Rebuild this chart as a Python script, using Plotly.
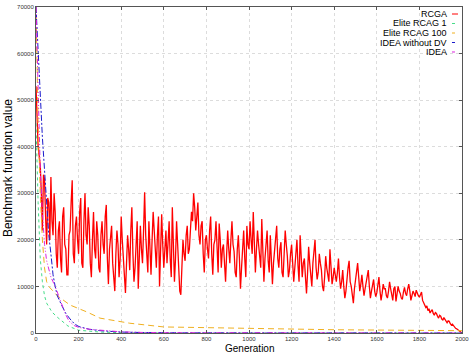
import plotly.graph_objects as go

# ---- data ----
rcga_val = [
    53000, 45000, 40000, 38000, 36000, 30000, 22000, 34000, 33000, 25000, 19000, 29000, 28000, 20000, 33500, 24000, 21000, 30000, 26000, 17000,
    14000, 22000, 24000, 16000, 13000, 25000, 27000, 19000, 18000, 12500, 12500, 21000, 22000, 28000, 32800, 17000, 15000, 23000, 25000, 20000,
    17000, 26000, 29000, 15000, 14000, 24000, 30000, 21000, 19000, 27000, 23000, 15000, 12000, 20000, 26000, 18000, 16000, 24000, 21000, 14000,
    13000, 21000, 24000, 19000, 17000, 25000, 27500, 16000, 10500, 18000, 20000, 23000, 15000, 11000, 9000, 17000, 22000, 19000, 12000, 16000,
    25000, 20000, 16000, 11000, 8600, 15000, 21000, 18000, 13500, 22000, 27000, 17000, 11000, 14000, 19000, 24000, 9500, 16000, 23000, 18000,
    15000, 22000, 30200, 21000, 18000, 13000, 24000, 19000, 12500, 20000, 26000, 22000, 17000, 14000, 21000, 25000, 10000, 17000, 25500, 19000,
    14000, 18000, 22000, 15000, 19000, 24000, 16000, 12000, 27000, 20000, 11000, 16000, 24000, 19000, 13000, 9000, 8200, 15000, 20000, 17000,
    15500, 21000, 23000, 17000, 18000, 22000, 26000, 24000, 30000, 27000, 22000, 25000, 28000, 21000, 19000, 23000, 24000, 17000, 13000, 20000,
    21000, 18000, 16000, 22000, 25000, 17000, 12500, 19000, 20000, 24000, 17000, 13000, 23500, 20000, 14000, 18000, 19000, 15000, 11000, 17000,
    22000, 18000, 15000, 20000, 24000, 19000, 17500, 13000, 12000, 18000, 21000, 16000, 9500, 14000, 19000, 22000, 16000, 12000, 23000, 19000,
    18000, 24000, 20000, 17000, 26000, 21000, 13000, 18000, 22000, 19000, 16000, 14000, 24500, 18000, 11000, 16000, 20000, 22000, 15500, 13000,
    21000, 17000, 10500, 15000, 18000, 21000, 23000, 16000, 14000, 18000, 19500, 13000, 12000, 17000, 22000, 19000, 16500, 12000, 13500, 17000,
    19000, 15000, 11000, 14000, 17500, 20000, 14500, 11000, 21000, 16000, 12000, 15000, 16000, 12000, 8500, 13000, 18500, 15000, 13000, 10000,
    15000, 18000, 20000, 14000, 11500, 13000, 17000, 15000, 13500, 10000, 9000, 12000, 16500, 14000, 12500, 11000, 18000, 14000, 10500, 12000,
    14000, 12500, 11000, 13000, 16000, 12000, 9500, 11000, 13500, 10000, 7500, 9000, 12000, 14000, 15500, 11000, 10000, 8000, 6400, 9500,
    11500, 13000, 15000, 12000, 9000, 10500, 12500, 10000, 8000, 9500, 11000, 12000, 13500, 10000, 7500, 9000, 10500, 11500, 9000, 7800,
    8600, 10500, 12000, 9000, 7000, 8500, 10500, 9500, 9500, 8000, 7500, 9000, 11000, 9500, 8000, 7000, 9500, 10000, 6800, 8000,
    10000, 9000, 8500, 7500, 7200, 8800, 9800, 8500, 8000, 9500, 10500, 9000, 7000, 8000, 9000, 8500, 7800, 9200, 8500, 8000,
    7700, 8300, 8800, 7000, 6500, 6000, 5500, 5800, 4800, 5200, 4300, 4700, 5000, 4200, 3800, 4400, 4200, 3600, 3200, 3800,
    3600, 3000, 2800, 3300, 3000, 2500, 2200, 2600, 2500, 2000, 1700, 1900, 1500, 1200, 1000, 900, 700, 500, 300, 150, 0,
]
rcga_gen = list(range(0, 2001, 5))
assert len(rcga_gen) == len(rcga_val)

elite1_gen = [0, 5, 10, 20, 30, 40, 50, 75, 100, 150, 200, 300, 400, 600, 2000]
elite1_val = [45000, 35000, 28000, 16000, 11000, 8000, 6400, 4500, 3400, 1500, 600, 200, 60, 0, 0]

elite100_gen = [0, 10, 20, 30, 40, 50, 60, 100, 160, 240, 300, 440, 600, 1000, 1400, 2000]
elite100_val = [70000, 45000, 30000, 20000, 14000, 11000, 10000, 8000, 6000, 4500, 3200, 2100, 1300, 1000, 700, 500]

ideanodv_gen = [0, 10, 20, 30, 40, 50, 60, 70, 80, 90, 100, 120, 140, 160, 180, 200, 250, 300, 350, 400, 500, 700, 2000]
ideanodv_val = [70000, 60000, 50000, 42000, 35000, 27000, 21000, 17000, 12500, 10000, 8000, 6000, 4200, 3000, 2000, 1400, 800, 500, 300, 200, 100, 30, 0]

idea_gen = [0, 10, 20, 30, 40, 50, 60, 70, 80, 90, 100, 110, 120, 130, 140, 150, 160, 180, 200, 250, 300, 350, 400, 500, 600, 2000]
idea_val = [70000, 50000, 35000, 26000, 19000, 15500, 13500, 12000, 11000, 10000, 8800, 7500, 6200, 5000, 3900, 3000, 2300, 1600, 1200, 800, 600, 400, 250, 120, 60, 0]

x_ticks = list(range(0, 2001, 200))
y_ticks = list(range(0, 70001, 10000))

series = [
    ("RCGA", rcga_gen, rcga_val, "#ff0000", "solid"),
    ("Elite RCAG 1", elite1_gen, elite1_val, "#44dd88", "dot"),
    ("Elite RCAG 100", elite100_gen, elite100_val, "#f0b020", "6px,4px"),
    ("IDEA without DV", ideanodv_gen, ideanodv_val, "#1a1acc", "6px,2px,2px,2px"),
    ("IDEA", idea_gen, idea_val, "#dd22dd", "5px,2px,1px,2px,1px,2px"),
]

FONT = "Liberation Sans"

fig = go.Figure()
for name, xs, ys, col, dash in series:
    fig.add_trace(go.Scatter(x=xs, y=ys, mode="lines", name=name,
                             line=dict(color=col, width=1.3 if dash == "solid" else 1, dash=dash),
                             showlegend=False))

# legend gnuplot-style: text right-aligned, sample on the right
leg_y = [0.9785, 0.9494, 0.9202, 0.8911, 0.8620]
for (name, _, _, col, dash), yy in zip(series, leg_y):
    fig.add_annotation(x=0.9695, y=yy, xref="paper", yref="paper", text=name,
                       showarrow=False, xanchor="right", yanchor="middle",
                       font=dict(family=FONT, size=9, color="#000"))
    fig.add_shape(type="line", xref="paper", yref="paper", x0=0.9765, x1=0.9906,
                  y0=yy, y1=yy,
                  line=dict(color=col, width=1, dash="solid" if dash == "solid" else "dot"))

# axis titles
fig.add_annotation(x=-0.0657, y=0.506, xref="paper", yref="paper",
                   text="Benchmark function value", textangle=-90, showarrow=False,
                   xanchor="center", yanchor="middle",
                   font=dict(family=FONT, size=12, color="#000"))
fig.add_annotation(x=0.5, y=-0.049, xref="paper", yref="paper",
                   text="Generation", showarrow=False,
                   xanchor="center", yanchor="middle",
                   font=dict(family=FONT, size=10, color="#000"))

axis_common = dict(showline=True, linecolor="#555", linewidth=1, mirror="allticks",
                   ticks="inside", ticklen=3, tickcolor="#555", automargin=False,
                   showgrid=True, gridcolor="#dcdcdc", griddash="dot", gridwidth=1,
                   zeroline=False, tickformat="d",
                   tickfont=dict(family=FONT, size=6, color="#333"))

fig.update_layout(
    width=472, height=356,
    margin=dict(l=36, r=10, t=7, b=23),
    paper_bgcolor="white", plot_bgcolor="white",
    xaxis=dict(range=[0, 2000], tickvals=x_ticks, **axis_common),
    yaxis=dict(range=[0, 70000], tickvals=y_ticks, **axis_common),
)

fig.write_html("out.html", config={"displayModeBar": False},
               post_script="document.body.style.margin='0';document.body.style.overflow='hidden';")
